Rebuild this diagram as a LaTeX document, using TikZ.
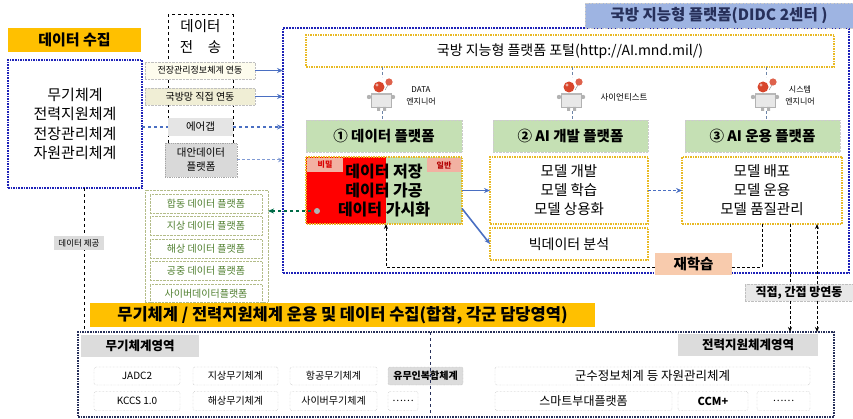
\documentclass[tikz,border=0pt]{standalone}
\usepackage{fontspec}
\setmainfont{Noto Sans CJK KR}
\usetikzlibrary{arrows.meta,calc}

\definecolor{orangeband}{HTML}{FFC000}
\definecolor{navyblue}{HTML}{1E22B8}
\definecolor{arrowblue}{HTML}{4A6FC2}
\definecolor{leafgreen}{HTML}{C5E0B4}
\definecolor{goldline}{HTML}{E8B923}
\definecolor{salmon}{HTML}{F8CBAD}
\definecolor{pinklabel}{HTML}{F2B1A2}
\definecolor{titleblue}{HTML}{9EB4E2}
\definecolor{listgreen}{HTML}{4F7F2F}
\definecolor{listline}{HTML}{B3BC88}
\definecolor{panelgray}{HTML}{DCDCDC}
\definecolor{inkred}{HTML}{FF0000}
\definecolor{darknavy}{HTML}{27305A}
\definecolor{headred}{HTML}{D8462C}
\definecolor{linkgray}{HTML}{6C84A8}

\newcommand\myfs[2]{\fontsize{#1}{#2}\selectfont}

\tikzset{
  every node/.style={inner sep=0pt,outer sep=0pt,align=center},
  band/.style={fill=orangeband,font=\bfseries\myfs{15}{18}},
  bluearrow/.style={draw=arrowblue,line width=1.6pt,-{Stealth[length=6pt,width=5pt]}},
  blueflow/.style={draw=arrowblue,line width=1.3pt,dashed,-{Stealth[length=6pt,width=5pt]}},
  linkbox/.style={draw=gray!50,densely dotted,font=\myfs{9.5}{11}},
  listrow/.style={draw=listline,densely dotted,font=\myfs{10}{12},text=listgreen,
    minimum width=112pt,minimum height=19pt},
  header/.style={fill=leafgreen,draw=gray!40,densely dotted,font=\bfseries\myfs{14.5}{17},
    minimum height=32pt},
  goldbox/.style={draw=goldline,densely dotted,line width=1.5pt},
  robotlink/.style={draw=linkgray,densely dashed,line width=0.8pt},
  itembox/.style={draw=gray!75,densely dotted,rounded corners=2pt,font=\myfs{10}{12}},
  arealabel/.style={fill=panelgray,font=\bfseries\myfs{12.5}{15},minimum height=22pt},
  robot/.pic={
    \fill[gray!18] (-11,-1) rectangle (9,13);
    \draw[gray!60,line width=0.4pt] (-11,-1) rectangle (9,13);
    \fill[gray!55] (-11,-1) rectangle (9,1.5);
    \fill[gray!60] (-13,3) circle (2.2) (11,3) circle (2.2);
    \fill[gray!60] (-5,13) rectangle (-2,17) (1,13) rectangle (4,17);
    \fill[headred] (-3,-7) circle (5.5);
    \fill[white,opacity=0.55] (-5,-9) circle (1.6);
    \draw[gray,line width=0.4pt] (6,-9) -- (3,-4);
    \fill[headred!85] (7,-12) circle (3.6);
  }
}

\begin{document}
\begin{tikzpicture}[x=1pt,y=-1pt]
\useasboundingbox (0,0) rectangle (853,419);

% ---------- data collection column ----------
\node[band,minimum width=133pt,minimum height=24pt] (collect) at (74.5,40) {데이터 수집};
\node[draw=navyblue,densely dotted,line width=1.6pt,minimum width=134pt,minimum height=128pt,
      font=\myfs{15}{19.5}] (leftbox) at (75,124) {무기체계\\전력지원체계\\전장관리체계\\자원관리체계};

% ---------- transfer column ----------
\node[draw=black,dashed,line width=1pt,minimum width=65pt,minimum height=135pt] (xfer) at (200.5,82.5) {};
\node[font=\myfs{14.5}{21}] (xfertitle) at (200.5,37) {데이터\\전\quad 송};

% airgap flow runs behind the transfer boxes
\node[fill=gray!20,minimum width=65pt,minimum height=18pt,font=\myfs{10.5}{12}] (airgap) at (200.5,127) {에어갭};
\draw[blueflow,-] (leftbox.east |- airgap) -- (airgap.west);

\node[linkbox,fill=gray!22!yellow!8,minimum width=110pt,minimum height=17pt,font=\myfs{9}{11}] (link1) at (200,70.5) {전장관리정보체계 연동};
\node[linkbox,fill=yellow!45!gray!25,minimum width=110pt,minimum height=17pt,font=\myfs{10}{12}] (link2) at (200,96.5) {국방망 직접 연동};
\node[draw=gray!70,densely dotted,line width=0.8pt,fill=gray!30,minimum width=72pt,minimum height=34pt,
      font=\myfs{10.5}{14}] (altplat) at (201,160) {대안데이터\\플랫폼};

% ---------- domain data platforms ----------
\node[draw=listline,densely dotted,minimum width=123pt,minimum height=112pt] (greenlist) at (206.5,246) {};
\node[listrow] (g1) at (206,204) {합동 데이터 플랫폼};
\node[listrow] (g2) at (206,226) {지상 데이터 플랫폼};
\node[listrow] (g3) at (206,249) {해상 데이터 플랫폼};
\node[listrow] (g4) at (206,271) {공중 데이터 플랫폼};
\node[listrow] (g5) at (206,294) {사이버데이터플랫폼};

% ---------- intelligent platform ----------
\node[draw=navyblue,densely dotted,line width=1.8pt,minimum width=566pt,minimum height=245pt] (platform) at (566,150.5) {};
\node[fill=titleblue,draw=gray!40,densely dotted,minimum width=268pt,minimum height=25pt,
      font=\bfseries\myfs{15.5}{18},text=darknavy] (ptitle) at (719,15.5) {국방 지능형 플랫폼(DIDC 2센터 )};
\node[goldbox,fill=white,minimum width=528pt,minimum height=32pt,font=\myfs{14}{16}] (portal) at (570,51)
      {국방 지능형 플랫폼 포털(http://AI.mnd.mil/)};

% transfer arrows into the platform
\draw[bluearrow] (link1.east) -- (link1.east -| platform.west);
\draw[bluearrow] (link2.east) -- (link2.east -| platform.west);
\draw[blueflow] (airgap.east) -- (airgap.east -| platform.west);
\draw[draw=arrowblue!70,densely dashed,line width=1pt,-{Stealth[length=5pt,width=4.5pt]}] (altplat.east) -- (altplat.east -| platform.west);

% platform headers
\node[header,minimum width=156pt] (h1) at (384,136) {① 데이터 플랫폼};
\node[header,minimum width=155pt] (h2) at (570.5,136) {② AI 개발 플랫폼};
\node[header,minimum width=155pt] (h3) at (762.5,136) {③ AI 운용 플랫폼};

% engineers
\node[minimum width=24pt,minimum height=34pt] (r1) at (382,94) {};
\node[minimum width=24pt,minimum height=34pt] (r2) at (572,94) {};
\node[minimum width=24pt,minimum height=34pt] (r3) at (766,94) {};
\foreach \r/\h in {r1/h1,r2/h2,r3/h3}{
  \draw[robotlink] (portal.south -| \r) -- (\r.north);
  \draw[robotlink] (\r.south) -- (\r.south |- \h.north);
}
\pic at (r1) {robot};
\pic at (r2) {robot};
\pic at (r3) {robot};
\node[font=\myfs{8}{12}] (r1lab) at (421,96) {DATA\\엔지니어};
\node[font=\myfs{8.5}{12}] (r2lab) at (624,97) {사이언티스트};
\node[font=\myfs{8}{12}] (r3lab) at (800,96) {시스템\\엔지니어};

% data platform body (classified / general)
\node[fill=leafgreen,minimum width=156pt,minimum height=67pt] (data) at (384,190.5) {};
\fill[inkred] (data.north west) rectangle ($(data.south)+(2,0)$);
\node[fill=pinklabel,minimum width=36pt,minimum height=14pt,font=\bfseries\myfs{8}{9},text=inkred!85!black] (secret) at (325,165) {비밀};
\node[fill=pinklabel,minimum width=34pt,minimum height=14pt,font=\bfseries\myfs{8}{9},text=inkred!70!black] (general) at (444,165) {일반};
\draw[goldbox] (data.north west) rectangle (data.south east);
\node[font=\bfseries\myfs{16}{19}] (datatxt) at (384,191) {데이터 저장\\데이터 가공\\데이터 가시화};

\node[goldbox,fill=white,minimum width=158pt,minimum height=67pt,font=\myfs{14.5}{19}] (dev) at (569,190.5) {모델 개발\\모델 학습\\모델 상용화};
\node[goldbox,fill=white,minimum width=158pt,minimum height=32pt,font=\myfs{14}{16}] (bigdata) at (569,244) {빅데이터 분석};
\node[goldbox,fill=white,minimum width=160pt,minimum height=67pt,font=\myfs{14.5}{19}] (ops) at (762,190.5) {모델 배포\\모델 운용\\모델 품질관리};

\draw[bluearrow] (data.east) -- (dev.west);
\draw[bluearrow] ($(data.east)+(0,18)$) -- (bigdata.west);
\draw[bluearrow,densely dashed] (dev.east) -- (ops.west);

% retraining loop
\draw[black,densely dashed,line width=0.9pt,-{Stealth[length=5pt,width=4pt]}]
  (ops.south) -- (ops.south |- 0,267) -| ($(data.south)+(2,0)$);
\node[fill=salmon,minimum width=77pt,minimum height=22pt,font=\bfseries\myfs{14.5}{16}] (retrain) at (693.5,264) {재학습};

% data hand-off to the domain platforms
\coordinate (gdot) at (317,211);
\draw[draw=teal!80!green!70!black,dashed,line width=1.5pt,-{Stealth[length=6pt,width=5pt]}] (gdot) -- (gdot -| greenlist.east);
\fill[gray!60] (gdot) circle (3);

% ---------- field systems ----------
\node[band,minimum width=505pt,minimum height=24pt,font=\bfseries\myfs{16.5}{18}] (fieldtitle) at (342.5,315)
  {무기체계 / 전력지원체계 운용 및 데이터 수집(합참, 각군 담당영역)};
\node[draw=darknavy,densely dotted,line width=1.6pt,minimum width=756pt,minimum height=85pt] (field) at (456,374.5) {};

% network link box and its connectors
\node[fill=gray!18,draw=gray!50,densely dotted,minimum width=108pt,minimum height=17pt,
      font=\bfseries\myfs{12}{13}] (net) at (799,292.5) {직접, 간접 망연동};
\path (net.north) ++(-9,0) coordinate (na) (net.north) ++(18,0) coordinate (nb);
\path (net.south) ++(-9,0) coordinate (nc) (net.south) ++(18,0) coordinate (nd);
\draw[black,densely dashed,line width=0.9pt] (na |- ops.south) -- (na);
\draw[black,densely dashed,line width=0.9pt,-{Stealth[length=5pt,width=4pt]}] (nb) -- (nb |- ops.south);
\draw[black,densely dashed,line width=0.9pt,-{Stealth[length=5pt,width=4pt]}] (nc) -- (nc |- field.north);
\draw[black,densely dashed,line width=0.9pt,-{Stealth[length=5pt,width=4pt]}] (nd) -- (nd |- field.north);

% data provision line
\coordinate (dp) at (84,0);
\draw[black,dashed,line width=1pt] (dp |- leftbox.south) -- (dp |- field.north);
\node[fill=panelgray,minimum width=50pt,minimum height=14pt,font=\myfs{8.5}{10}] (provide) at (79,243) {데이터 제공};

% weapon systems area
\node[arealabel,minimum width=118pt] (wlabel) at (140,346) {무기체계영역};
\node[itembox,minimum width=86pt,minimum height=18pt] (w11) at (137,376) {JADC2};
\node[itembox,minimum width=86pt,minimum height=19pt] (w21) at (137,401) {KCCS 1.0};
\node[itembox,minimum width=85pt,minimum height=18pt] (w12) at (235.5,376) {지상무기체계};
\node[itembox,minimum width=85pt,minimum height=19pt] (w22) at (235.5,401) {해상무기체계};
\node[itembox,minimum width=87pt,minimum height=18pt] (w13) at (333.5,376) {항공무기체계};
\node[itembox,minimum width=87pt,minimum height=19pt] (w23) at (333.5,401) {사이버무기체계};
\node[itembox,fill=panelgray,minimum width=75pt,minimum height=18pt,font=\bfseries\myfs{10}{12}] (w14) at (425.5,376) {유무인복합체계};
\node[itembox,minimum width=30pt,minimum height=19pt] (w24) at (403,401) {……};

\coordinate (div) at (430,0);
\draw[darknavy,dashed,line width=1pt] (div |- field.north) -- (div |- field.south);

% support systems area
\node[arealabel,minimum width=140pt] (slabel) at (748,345) {전력지원체계영역};
\node[itembox,minimum width=315pt,minimum height=18pt,font=\myfs{12.5}{14}] (s1) at (652.5,376) {군수정보체계 등 자원관리체계};
\node[itembox,minimum width=177pt,minimum height=19pt,font=\myfs{12}{14}] (s2) at (583.5,401) {스마트부대플랫폼};
\node[itembox,minimum width=70pt,minimum height=19pt,font=\bfseries\myfs{11}{13}] (s3) at (713,401) {CCM+};
\node[itembox,minimum width=53pt,minimum height=19pt] (s4) at (783.5,401) {……};

\end{tikzpicture}
\end{document}
